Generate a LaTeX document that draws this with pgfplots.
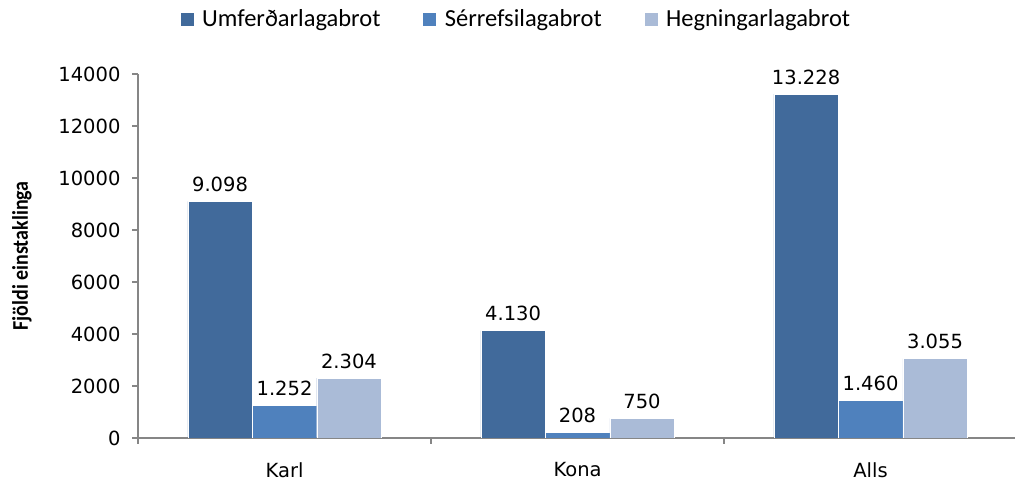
\documentclass[border=0pt]{standalone}
\usepackage{fontspec}
\setmainfont{DejaVu Sans}
\newfontfamily\calfont{Carlito}
\usepackage{pgfplots}
\pgfplotsset{compat=1.18}
\definecolor{cA}{RGB}{65,106,155}
\definecolor{cB}{RGB}{79,129,189}
\definecolor{cC}{RGB}{170,187,215}
\definecolor{axgray}{RGB}{134,134,134}
\begin{document}
\begin{tikzpicture}
\useasboundingbox (0,0) rectangle (1015pt,486pt);
\begin{axis}[
  at={(138pt,48pt)}, anchor=south west,
  scale only axis, width=877pt, height=364pt,
  xmin=-0.5, xmax=2.493, ymin=0, ymax=14000,
  axis x line*=bottom, axis y line*=left,
  axis line style={axgray, line width=1.2pt},
  ybar=0pt, bar width=0.22,
  xtick={-0.5,0.5,1.5}, xticklabels={},
  extra x ticks={0,1,2}, extra x tick labels={Karl,Kona,Alls},
  extra x tick style={major tick length=0pt},
  ytick={0,2000,...,14000}, scaled y ticks=false,
  tick align=outside, major tick length=6pt,
  tick style={axgray, line width=1.2pt},
  /pgf/number format/assume math mode=true,
  yticklabel style={/pgf/number format/1000 sep={}, xshift=-8pt, font=\fontsize{19.5}{23}\selectfont},
  xticklabel style={yshift=-21pt, font=\fontsize{19.5}{23}\selectfont},
  ylabel={\calfont\bfseries\scalebox{1}[1.12]{Fjöldi einstaklinga}},
  y label style={at={(axis description cs:-0.1323,0.5)}, anchor=center, font=\fontsize{20}{24}\selectfont},
  nodes near coords={\pgfmathprintnumber[1000 sep={.}]{\pgfplotspointmeta}},
  every node near coord/.append style={font=\fontsize{19.5}{23}\selectfont, text=black, yshift=6pt},
  legend style={at={(0.431,1.151)}, anchor=center, draw=none, fill=none,
    legend columns=3, font=\calfont\fontsize{24.5}{28}\selectfont,
    /tikz/every odd column/.append style={column sep=6pt},
    /tikz/every even column/.append style={column sep=40pt}},
  legend image code/.code={\fill[#1] (0pt,-7pt) rectangle (14pt,7pt);},
]
\addplot[fill=cA, draw=white, line width=0.4pt] coordinates {(0,9098) (1,4130) (2,13228)};
\addplot[fill=cB, draw=white, line width=0.4pt] coordinates {(0,1252) (1,208) (2,1460)};
\addplot[fill=cC, draw=white, line width=0.4pt] coordinates {(0,2304) (1,750) (2,3055)};
\legend{Umferðarlagabrot, Sérrefsilagabrot, Hegningarlagabrot}
\end{axis}
\end{tikzpicture}
\end{document}
